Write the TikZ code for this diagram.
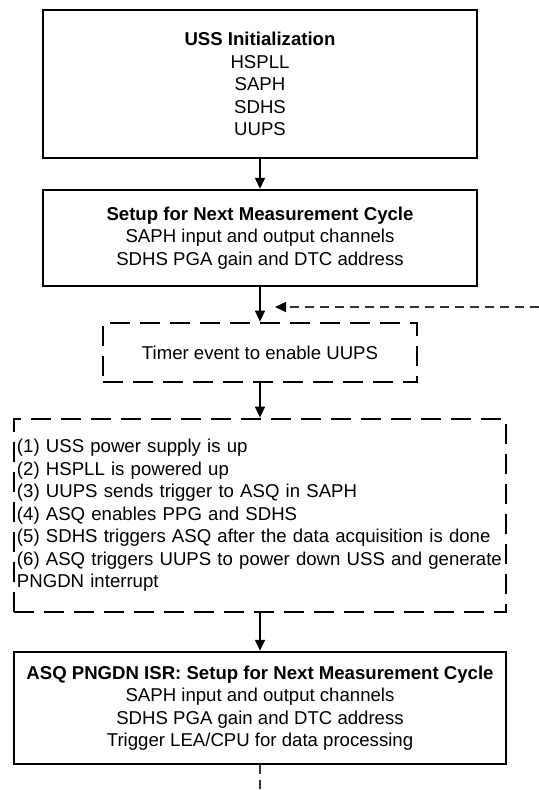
\documentclass[tikz,border=0pt]{standalone}
\usepackage{fontspec}
\setmainfont{Liberation Sans}
\usetikzlibrary{arrows.meta, positioning, calc}

\begin{document}
\begin{tikzpicture}[x=0.5pt, y=-0.5pt,
    font=\fontsize{9.3}{11.25}\selectfont,
    solidbox/.style={rectangle, draw, line width=1.2pt, align=center},
    dashbox/.style={rectangle, draw, line width=1.4pt, dash pattern=on 10pt off 5pt},
    flow/.style={line width=0.7pt, -{Triangle[length=5.5pt, width=5pt]}},
    loopline/.style={line width=0.6pt, black!80, dash pattern=on 4.5pt off 3pt}
  ]
  \useasboundingbox (0,0) rectangle (539,790);

  % Boxes
  \node[solidbox, minimum width=217pt, minimum height=74pt] (init) at (260,84)
    {\textbf{USS Initialization}\\HSPLL\\SAPH\\SDHS\\UUPS};
  \node[solidbox, minimum width=217pt, minimum height=48pt] (setup) at (260,238)
    {\textbf{Setup for Next Measurement Cycle}\\SAPH input and output channels\\SDHS PGA gain and DTC address};
  \node[dashbox, minimum width=157pt, minimum height=29.5pt] (timer) at (260,352.5)
    {Timer event to enable UUPS};
  \node[dashbox, align=left, text width=243pt, inner xsep=1.5pt, minimum height=96.5pt] (cycle) at (260,515.5)
    {(1) USS power supply is up\\
     (2) HSPLL is powered up\\
     (3) UUPS sends trigger to ASQ in SAPH\\
     (4) ASQ enables PPG and SDHS\\
     (5) SDHS triggers ASQ after the data acquisition is done\\
     (6) ASQ triggers UUPS to power down USS and generate\\
     PNGDN interrupt};
  \node[solidbox, minimum width=246pt, minimum height=56pt] (isr) at (260,708)
    {\textbf{ASQ PNGDN ISR: Setup for Next Measurement Cycle}\\SAPH input and output channels\\SDHS PGA gain and DTC address\\Trigger LEA/CPU for data processing};

  % Arrows
  \draw[flow] (init) -- (setup);
  \draw[flow] (setup) -- (timer);
  \draw[flow] (timer) -- (cycle);
  \draw[flow] (cycle) -- (isr);

  % Loop back to the next cycle
  \coordinate (back) at (539,307);
  \coordinate (next) at (260,790);
  \draw[loopline, -{Triangle[length=5.5pt, width=5pt, color=black]}] (back) -- ([xshift=7.5pt]back -| setup.south);
  \draw[loopline] (isr) -- (next);
\end{tikzpicture}
\end{document}
